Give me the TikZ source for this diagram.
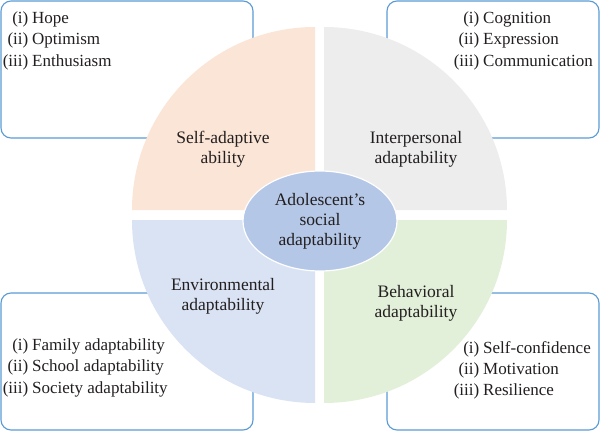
\documentclass[tikz,border=0pt]{standalone}
\usepackage{fontspec}
\setmainfont{Liberation Serif}
\usetikzlibrary{shapes.geometric,positioning}
\definecolor{boxblue}{RGB}{91,155,213}
\definecolor{selfc}{RGB}{251,229,214}
\definecolor{interc}{RGB}{237,237,237}
\definecolor{envc}{RGB}{218,227,243}
\definecolor{behc}{RGB}{226,240,217}
\definecolor{corec}{RGB}{180,199,231}
\definecolor{txt}{RGB}{35,31,32}
\tikzset{
  listbox/.style={draw=boxblue,line width=1.1pt,rounded corners=10pt,fill=white},
  itemtext/.style={inner sep=0pt,anchor=base west,text=txt,font=\fontsize{17}{20}\selectfont},
  itemnum/.style={inner sep=0pt,anchor=base east,text=txt,font=\fontsize{17}{20}\selectfont},
  quadtext/.style={align=center,inner sep=0pt,text=txt,font=\fontsize{17.5}{20}\selectfont}
}
\begin{document}
\begin{tikzpicture}[x=1pt,y=1pt]
\useasboundingbox (0,0) rectangle (600,432);

\draw[listbox] (1,431) rectangle (253,294);
\draw[listbox] (387,431) rectangle (599,294);
\draw[listbox] (1,139) rectangle (253,2);
\draw[listbox] (387,139) rectangle (599,2);

\fill[selfc] (315,222) -- (132,222) arc[start angle=180,end angle=90,radius=183pt] -- cycle;
\fill[interc] (324,222) -- (324,405) arc[start angle=90,end angle=0,radius=183pt] -- cycle;
\fill[envc] (315,212) -- (132,212) arc[start angle=180,end angle=270,radius=183pt] -- cycle;
\fill[behc] (324,212) -- (507,212) arc[start angle=0,end angle=-90,radius=183pt] -- cycle;

\node[quadtext] (self) at (223,283) {Self-adaptive\\ability};
\node[quadtext] (inter) at (416,283) {Interpersonal\\adaptability};
\node[quadtext] (env) at (223,136) {Environmental\\adaptability};
\node[quadtext] (beh) at (416,129) {Behavioral\\adaptability};

\node[ellipse,draw=white,line width=1.2pt,fill=corec,minimum width=154pt,minimum height=100pt,
      quadtext] (core) at (320,211) {Adolescent's\\social\\adaptability};

\foreach \t [count=\n] in {Hope,Optimism,Enthusiasm}{
  \node[itemnum] (Hn\n) at (28.5,{430-21.5*\n}) {(\romannumeral\n)};
  \node[itemtext] (H\n) at (32,{430-21.5*\n}) {\t};}

\foreach \t [count=\n] in {Cognition,Expression,Communication}{
  \node[itemnum] (Cn\n) at (479.5,{430-21.5*\n}) {(\romannumeral\n)};
  \node[itemtext] (C\n) at (483,{430-21.5*\n}) {\t};}

\foreach \t [count=\n] in {Family adaptability,School adaptability,Society adaptability}{
  \node[itemnum] (Fn\n) at (28.5,{103.5-21.5*\n}) {(\romannumeral\n)};
  \node[itemtext] (F\n) at (32,{103.5-21.5*\n}) {\t};}

\foreach \t [count=\n] in {Self-confidence,Motivation,Resilience}{
  \node[itemnum] (Sn\n) at (479.5,{100-21*\n}) {(\romannumeral\n)};
  \node[itemtext] (S\n) at (483,{100-21*\n}) {\t};}
\end{tikzpicture}
\end{document}
